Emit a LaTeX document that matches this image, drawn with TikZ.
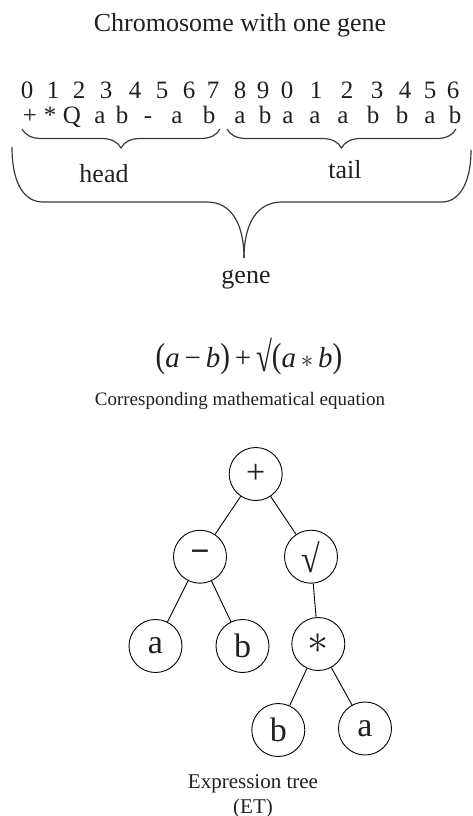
\documentclass[tikz,border=0pt]{standalone}
\usepackage{fontspec}
\usepackage{graphicx}
\setmainfont{Liberation Serif}
\usetikzlibrary{decorations.pathreplacing}
\definecolor{ink}{HTML}{231F20}
\definecolor{bracecol}{HTML}{3A3A3A}
\begin{document}
\begin{tikzpicture}[x=1pt,y=-1pt,
  every node/.style={inner sep=0pt, text=ink},
  lbl/.style={anchor=base, font=\fontsize{26}{30}\selectfont},
  captext/.style={anchor=base, font=\fontsize{19}{23}\selectfont},
  chr/.style={anchor=base, font=\fontsize{25}{30}\selectfont},
  tn/.style={circle, draw=black, line width=0.9pt, minimum size=53pt, font=\fontsize{34}{40}\selectfont},
  treeedge/.style={draw=black, line width=0.9pt},
  brc/.style={draw=bracecol, line width=1.2pt},
  brdec/.style={brc, decorate, decoration={brace, mirror, amplitude=19pt}}]
\useasboundingbox (0,0) rectangle (473,816);

% title
\node[lbl] (title) at (240,32) {Chromosome with one gene};

% index row
\foreach \ch/\xx [count=\i] in {0/27,1/53,2/79,3/106,4/135,5/162,6/189,7/213,8/240,9/263,0/287,1/316,2/347,3/377,4/405,5/430,6/453}
  \node[chr] (d\i) at (\xx,98) {\ch};

% symbol row
\foreach \ch/\xx [count=\i] in {+/30,*/50,Q/72,a/100,b/122,-/148,a/177,b/209,a/240,b/265,a/288,a/315,a/343,b/373,b/402,a/430,b/455}
  \node[chr] (s\i) at (\xx,123) {\ch};

% head and tail braces
\coordinate (hl) at (22,129);
\coordinate (hr) at (220,129);
\coordinate (tl) at (227,129);
\coordinate (tr) at (456,129);
\draw[brdec] (hl) -- (hr);
\draw[brdec] (tl) -- (tr);
\node[lbl] (head) at (104,182) {head};
\node[lbl] (tail) at (345,178) {tail};

% gene brace
\draw[brc] (12,147) .. controls (12,185) and (25,202) .. (43,202) -- (207,202)
  .. controls (232,202) and (244,225) .. (244,258);
\draw[brc] (471,150) .. controls (471,185) and (458,202) .. (442,202) -- (282,202)
  .. controls (256,202) and (244,225) .. (244,258);
\node[lbl] (gene) at (246,283) {gene};

% equation
\node[anchor=base, font=\fontsize{29}{32}\selectfont] (eq) at (249,367)
  {\scalebox{1}[1.2]{(}\textit{a}\,−\,\textit{b}\scalebox{1}[1.2]{)}\,+\,\raisebox{-4pt}{\scalebox{1}[1.45]{√}}\scalebox{1}[1.2]{(}\textit{a}\,$\ast$\,\textit{b}\scalebox{1}[1.2]{)}};
\node[captext] (eqcap) at (240,405) {Corresponding mathematical equation};

% expression tree
\node[tn] (plus)  at (255.7,474) {+};
\node[tn] (minus) at (200,556.7) {\textbf{−}};
\node[tn] (sqrt)  at (311,556.7) {\scalebox{1}[1.15]{√}};
\node[tn] (a1)    at (155.5,646) {a};
\node[tn] (b1)    at (242.5,646) {b};
\node[tn] (mul)   at (318.3,644) {\scalebox{1.7}{$\ast$}};
\node[tn] (b2)    at (278.3,730) {b};
\node[tn] (a2)    at (365,728.5) {a};

\draw[treeedge] (plus) -- (minus);
\draw[treeedge] (plus) -- (sqrt);
\draw[treeedge] (minus) -- (a1);
\draw[treeedge] (minus) -- (b1);
\draw[treeedge] (sqrt) -- (mul);
\draw[treeedge] (mul) -- (b2);
\draw[treeedge] (mul) -- (a2);

\node[anchor=base, font=\fontsize{21}{25}\selectfont] (et) at (253,788) {Expression tree};
\node[anchor=base, font=\fontsize{21}{25}\selectfont] (etab) at (253,813) {(ET)};
\end{tikzpicture}
\end{document}
